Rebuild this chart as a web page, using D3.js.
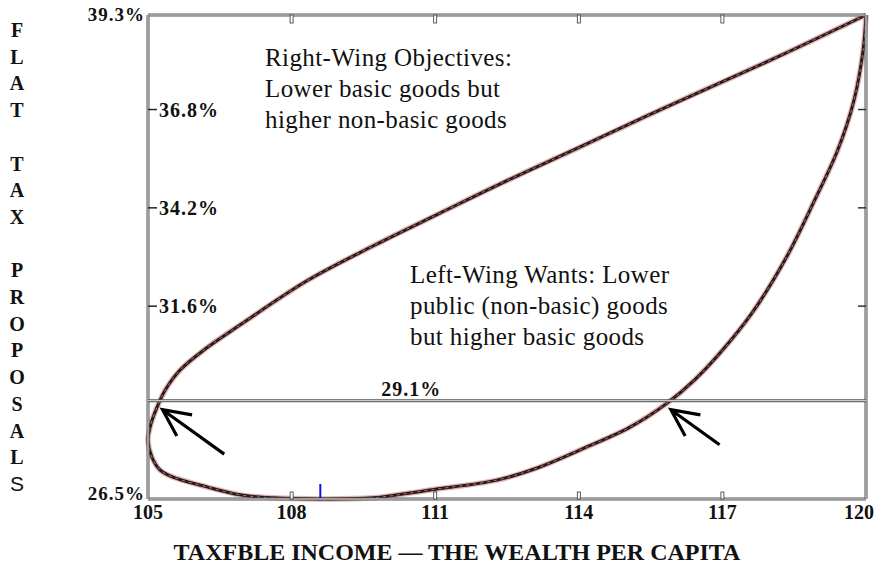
<!DOCTYPE html>
<html>
<head>
<meta charset="utf-8">
<script src="https://cdn.jsdelivr.net/npm/d3@7/dist/d3.min.js"></script>
<style>
  body { margin: 0; background: #fff; }
  text { font-family: "Liberation Serif", "Times New Roman", serif; fill: #111; }
</style>
</head>
<body>
<div id="chart-area"></div>
<script>
const WIDTH = 875;
const HEIGHT = 573;
const MARGIN = {top: 15, right: 9, bottom: 74, left: 148};

// axis ticks as printed
const xTicks = [105, 108, 111, 114, 117, 120];
const yTicks = [26.5, 29.1, 31.6, 34.2, 36.8, 39.3];
const flatTaxLine = 29.1;

// the loop, starting at the top right corner, along the upper branch,
// round the left side and the bottom, back up the right branch
const loopIncome = [120, 118.2, 116.8, 115.42, 114.03, 112.35, 111.1, 109.7, 108.32, 106.92,
  106.23, 105.67, 105.36, 105.19, 105.06, 105.0, 105.08, 105.25, 105.52, 106.23, 106.92,
  107.61, 108.59, 109.7, 110.89, 112.29, 113.13, 114.03, 115.07, 115.84, 116.42,
  116.95, 117.62, 118.34, 118.93, 119.41, 119.75, 119.94, 120];
const loopRate = [39.3, 38.22, 37.42, 36.63, 35.81, 34.83, 34.06, 33.19, 32.27, 31.1,
  30.5, 29.91, 29.38, 28.93, 28.48, 28.06, 27.61, 27.27, 27.08, 26.82, 26.61,
  26.53, 26.5, 26.53, 26.74, 27.0, 27.32, 27.8, 28.4, 29.03, 29.65,
  30.36, 31.42, 32.9, 34.41, 35.73, 37.05, 38.37, 39.3];

// where the loop crosses the flat tax line
const crossIncome = [105.22, 115.84];
const blueMarkIncome = 108.6;

const yTitle = 'FLAT TAX PROPOSALS';
const xTitle = 'TAXFBLE INCOME \u2014 THE WEALTH PER CAPITA';
const rightWingNote = ['Right-Wing Objectives:', 'Lower basic goods but', 'higher non-basic goods'];
const leftWingNote = ['Left-Wing Wants: Lower', 'public (non-basic) goods', 'but higher basic goods'];

main();

function main() {
  const svg = prepareGraph();
  showGraph(svg);
}

function prepareGraph() {
  return d3.select('#chart-area').append('svg')
    .attr('width', WIDTH)
    .attr('height', HEIGHT);
}

function doubleLine(g, x1, y1, x2, y2) {
  g.append('line')
    .attr('x1', x1).attr('y1', y1).attr('x2', x2).attr('y2', y2)
    .attr('stroke', '#555').attr('stroke-width', 3);
  g.append('line')
    .attr('x1', x1).attr('y1', y1).attr('x2', x2).attr('y2', y2)
    .attr('stroke', '#e4e4e4').attr('stroke-width', 1);
}

function showGraph(svg) {
  const left = MARGIN.left;
  const right = WIDTH - MARGIN.right;
  const top = MARGIN.top;
  const bottom = HEIGHT - MARGIN.bottom;

  const x = d3.scaleLinear()
    .domain([xTicks[0], xTicks[xTicks.length - 1]])
    .range([left, right]);
  const y = d3.scaleLinear()
    .domain([yTicks[0], yTicks[yTicks.length - 1]])
    .range([bottom, top]);

  const points = loopIncome.map((v, i) => [v, loopRate[i]]);
  const line = d3.line()
    .x(d => x(d[0]))
    .y(d => y(d[1]))
    .curve(d3.curveCatmullRom.alpha(0.5));

  const g = svg.append('g');

  // the loop: pink halo, dark body, faint chain pattern
  g.append('path')
    .attr('d', line(points))
    .attr('fill', 'none')
    .attr('stroke', '#e2b4b4')
    .attr('stroke-width', 5.5);
  g.append('path')
    .attr('d', line(points))
    .attr('fill', 'none')
    .attr('stroke', '#2b1818')
    .attr('stroke-width', 3);
  g.append('path')
    .attr('d', line(points))
    .attr('fill', 'none')
    .attr('stroke', '#bba')
    .attr('stroke-width', 0.7)
    .attr('stroke-dasharray', '3 4');

  // frame
  doubleLine(g, left, top, right, top);
  doubleLine(g, left, bottom, right, bottom);
  doubleLine(g, left, top, left, bottom);
  doubleLine(g, right, top, right, bottom);

  // flat tax line
  doubleLine(g, left, y(flatTaxLine), right, y(flatTaxLine));

  // small tick marks on top and bottom
  const inner = xTicks.slice(1, -1);
  g.selectAll('.tick-top')
    .data(inner)
    .enter().append('rect')
    .attr('x', d => x(d) - 1.5)
    .attr('y', top)
    .attr('width', 3)
    .attr('height', 8)
    .attr('fill', '#fff')
    .attr('stroke', '#333')
    .attr('stroke-width', 0.8);
  g.selectAll('.tick-bottom')
    .data(inner)
    .enter().append('rect')
    .attr('x', d => x(d) - 1.5)
    .attr('y', bottom - 7)
    .attr('width', 3)
    .attr('height', 7)
    .attr('fill', '#fff')
    .attr('stroke', '#333')
    .attr('stroke-width', 0.8);

  // left and right tick dashes
  const innerY = yTicks.filter(d => d !== flatTaxLine).slice(1, -1);
  g.selectAll('.tick-left')
    .data(innerY)
    .enter().append('line')
    .attr('x1', left).attr('x2', left + 9)
    .attr('y1', d => y(d)).attr('y2', d => y(d))
    .attr('stroke', '#222').attr('stroke-width', 1.5);
  g.selectAll('.tick-right')
    .data(innerY)
    .enter().append('line')
    .attr('x1', right - 8).attr('x2', right)
    .attr('y1', d => y(d)).attr('y2', d => y(d))
    .attr('stroke', '#333').attr('stroke-width', 1.5);

  // blue mark on the bottom edge
  g.append('line')
    .attr('x1', x(blueMarkIncome)).attr('x2', x(blueMarkIncome))
    .attr('y1', bottom - 15).attr('y2', bottom - 1)
    .attr('stroke', '#1010ee').attr('stroke-width', 2);

  // y labels
  const fmt = d => `${d.toFixed(1)}%`;
  g.selectAll('.ylab-in')
    .data(innerY)
    .enter().append('text')
    .attr('x', left + 11)
    .attr('y', d => y(d))
    .attr('dy', '0.35em')
    .style('font-size', '20px')
    .style('font-weight', 'bold')
    .style('letter-spacing', '1px')
    .text(fmt);
  g.selectAll('.ylab-corner')
    .data([yTicks[0], yTicks[yTicks.length - 1]])
    .enter().append('text')
    .attr('x', left - 3)
    .attr('y', (d, i) => y(d) + (i === 0 ? 1 : 6))
    .attr('text-anchor', 'end')
    .style('font-size', '19px')
    .style('font-weight', 'bold')
    .style('letter-spacing', '1px')
    .text(fmt);
  g.append('text')
    .attr('x', x(110.5))
    .attr('y', y(flatTaxLine) - 5)
    .attr('text-anchor', 'middle')
    .style('font-size', '20px')
    .style('font-weight', 'bold')
    .style('letter-spacing', '1px')
    .text(fmt(flatTaxLine));

  // x labels
  g.selectAll('.xlab')
    .data(xTicks)
    .enter().append('text')
    .attr('x', (d, i) => i === xTicks.length - 1 ? WIDTH - 1 : x(d))
    .attr('y', bottom + 20)
    .attr('text-anchor', (d, i) => i === xTicks.length - 1 ? 'end' : 'middle')
    .style('font-size', '20px')
    .style('font-weight', 'bold')
    .text(d => d);

  // arrows pointing at the crossings
  const arrowLen = [76, 60];
  crossIncome.forEach((v, i) => {
    const tx = x(v) + 4;
    const ty = y(flatTaxLine) + 9;
    const ang = Math.atan2(0.72, 1);
    const tail = [tx + arrowLen[i] * Math.cos(ang), ty + arrowLen[i] * Math.sin(ang)];
    const w1 = [tx + 30 * Math.cos(ang - 0.45), ty + 30 * Math.sin(ang - 0.45)];
    const w2 = [tx + 30 * Math.cos(ang + 0.45), ty + 30 * Math.sin(ang + 0.45)];
    g.append('path')
      .attr('d', `M${w1}L${tx},${ty}L${w2}M${tx},${ty}L${tail}`)
      .attr('fill', 'none')
      .attr('stroke', '#000')
      .attr('stroke-width', 3.2);
  });

  // notes
  const note = (lines, px, py) => {
    g.append('g').selectAll('text')
      .data(lines)
      .enter().append('text')
      .attr('x', px)
      .attr('y', (d, i) => py + i * 31)
      .style('font-size', '25px')
      .style('letter-spacing', '0.4px')
      .text(d => d);
  };
  note(rightWingNote, 265, 66);
  note(leftWingNote, 410, 283);

  // vertical y title, one letter per row
  g.selectAll('.ytitle')
    .data(yTitle.split(''))
    .enter().append('text')
    .attr('x', 17)
    .attr('y', (d, i) => 37 + i * 26.7)
    .attr('text-anchor', 'middle')
    .style('font-size', (d, i) => i === yTitle.length - 1 ? '21px' : '20px')
    .style('font-weight', (d, i) => i === yTitle.length - 1 ? 'normal' : 'bold')
    .style('font-family', (d, i) => i === yTitle.length - 1 ? 'Liberation Sans, sans-serif' : null)
    .text(d => d);

  g.append('text')
    .attr('x', 457)
    .attr('y', 560)
    .attr('text-anchor', 'middle')
    .style('font-size', '24px')
    .style('font-weight', 'bold')
    .text(xTitle);
}
</script>
</body>
</html>
